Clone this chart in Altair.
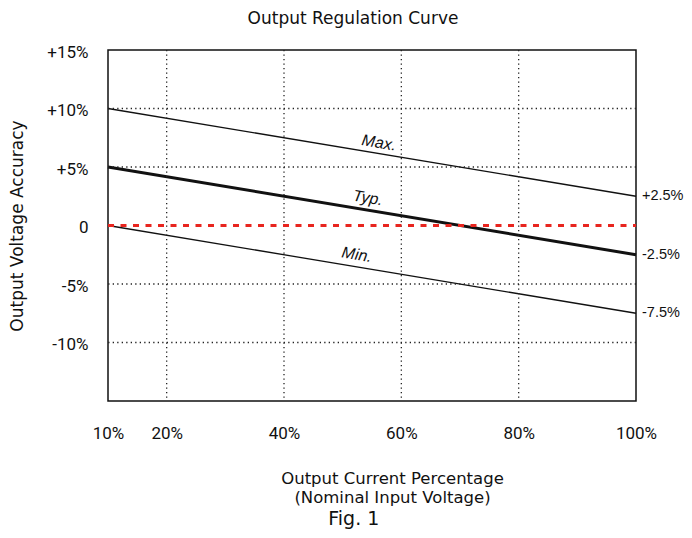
import altair as alt
import pandas as pd

# ---- data ----
x_pct = [10, 100]
max_vals = [10, 2.5]
typ_vals = [5, -2.5]
min_vals = [0, -7.5]
ref_vals = [0, 0]

curve_names = ["Max.", "Typ.", "Min."]
curve_label_x = [56.2, 54.3, 52.4]
curve_label_y = [7.05, 2.35, -2.5]

end_labels = ["+2.5%", "-2.5%", "-7.5%"]
end_label_y = [2.5, -2.5, -7.5]

x_ticks = [10, 20, 40, 60, 80, 100]
y_ticks = [-10, -5, 0, 5, 10, 15]
x_grid = [20, 40, 60, 80]
y_grid = [-10, -5, 5, 10]

TFONT = "DejaVu Sans"
LFONT = "Roboto"
AFONT = "Liberation Sans"

lines_df = pd.DataFrame({
    "x": x_pct * 3,
    "y": max_vals + typ_vals + min_vals,
    "curve": ["Max."] * 2 + ["Typ."] * 2 + ["Min."] * 2,
    "w": [1.3] * 2 + [3.0] * 2 + [1.3] * 2,
})
ref_df = pd.DataFrame({"x": x_pct, "y": ref_vals})
lab_df = pd.DataFrame({"x": curve_label_x, "y": curve_label_y, "t": curve_names})
end_df = pd.DataFrame({"x": [100] * 3, "y": end_label_y, "t": end_labels})
fig_df = pd.DataFrame({"x": [51.9], "y": [-25.1], "t": ["Fig. 1"]})
xg_df = pd.DataFrame({"x": x_grid})
yg_df = pd.DataFrame({"y": y_grid})

xscale = alt.Scale(domain=[10, 100], nice=False, zero=False)
yscale = alt.Scale(domain=[-15, 15], nice=False, zero=False)

xaxis = alt.Axis(
    values=x_ticks, labelExpr="datum.value + '%'", ticks=False, domain=False,
    grid=False, labelFlush=False,
    labelPadding=24, labelFontSize=17, labelFont=LFONT, labelColor="#111",
    title=["Output Current Percentage", "(Nominal Input Voltage)"],
    titleFont=TFONT, titleFontSize=16.5, titleFontWeight="normal", titleColor="#111",
    titlePadding=29, titleLineHeight=19.5, titleX=284, titleAlign="center",
)
yaxis = alt.Axis(
    values=y_ticks,
    labelExpr="datum.value > 0 ? '+' + datum.value + '%' : (datum.value == 0 ? '0' : datum.value + '%')",
    ticks=False, domain=False, grid=False, labelFlush=False, labelOffset=2,
    labelPadding=20, labelFontSize=17, labelFont=LFONT, labelColor="#111",
    title="Output Voltage Accuracy", titleFont=TFONT, titleFontSize=17,
    titleFontWeight="normal", titleColor="#111", titlePadding=20,
)

base_x = alt.X("x:Q", scale=xscale, axis=xaxis)
base_y = alt.Y("y:Q", scale=yscale, axis=yaxis)

xgrid = alt.Chart(xg_df).mark_rule(color="#222", strokeWidth=1.3, strokeDash=[1.3, 3.2]).encode(
    x=alt.X("x:Q", scale=xscale)
)
ygrid = alt.Chart(yg_df).mark_rule(color="#222", strokeWidth=1.3, strokeDash=[1.3, 3.2]).encode(
    y=alt.Y("y:Q", scale=yscale)
)
curves = alt.Chart(lines_df).mark_line(color="#111").encode(
    x=base_x, y=base_y, detail="curve:N",
    strokeWidth=alt.StrokeWidth("w:Q", scale=None, legend=None),
)
ref = alt.Chart(ref_df).mark_line(color="#e8251f", strokeWidth=3, strokeDash=[6, 6.5]).encode(
    x=alt.X("x:Q", scale=xscale), y=alt.Y("y:Q", scale=yscale)
)
labels = alt.Chart(lab_df).mark_text(
    font=AFONT, fontSize=16, angle=9.5, color="#111", fontStyle="italic"
).encode(x=alt.X("x:Q", scale=xscale), y=alt.Y("y:Q", scale=yscale), text="t:N")
ends = alt.Chart(end_df).mark_text(
    font=AFONT, fontSize=14.5, align="left", dx=6, color="#111"
).encode(x=alt.X("x:Q", scale=xscale), y=alt.Y("y:Q", scale=yscale), text="t:N")
fig = alt.Chart(fig_df).mark_text(
    font=TFONT, fontSize=19, color="#111"
).encode(x=alt.X("x:Q", scale=xscale), y=alt.Y("y:Q", scale=yscale), text="t:N")

chart = alt.layer(curves, xgrid, ygrid, ref, labels, ends, fig).properties(
    width=528, height=351,
    autosize=alt.AutoSizeParams(type="none"),
    padding={"left": 100, "top": 42, "right": 48, "bottom": 129},
    title=alt.TitleParams(
        "Output Regulation Curve", font=TFONT, fontSize=17, fontWeight="normal",
        color="#111", offset=15, dx=-19,
    ),
).configure_view(stroke="#111", strokeWidth=1.5)

chart.save("out.html", embed_options={"renderer": "svg", "actions": False})
